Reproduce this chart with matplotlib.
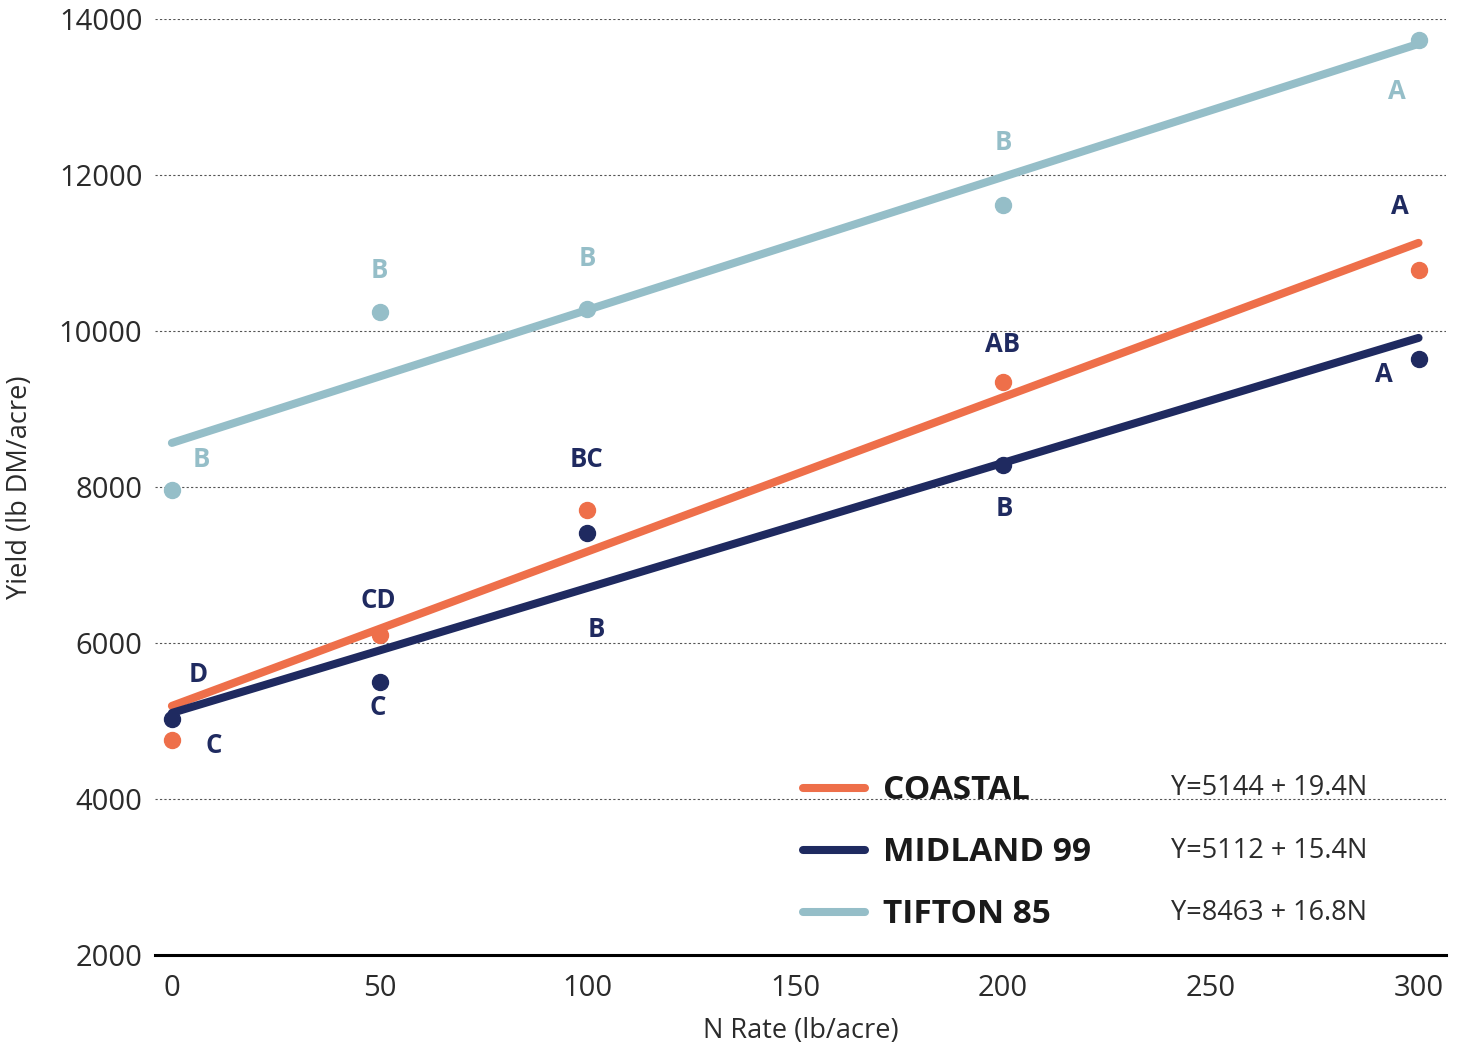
import matplotlib
matplotlib.use("Agg")
import matplotlib.pyplot as plt

FONT = "Open Sans"
COASTAL_COLOR = "#ee6f4a"
MIDLAND_COLOR = "#1f2a60"
TIFTON_COLOR = "#95bec8"
TEXT_COLOR = "#2b2b2b"

n_rates = [0, 50, 100, 200, 300]

coastal_yield = [4756, 6103, 7705, 9346, 10782]
midland_yield = [5026, 5500, 7410, 8282, 9641]
tifton_yield = [7962, 10244, 10282, 11615, 13731]

# fitted lines, read at N = 0 and N = 300
fit_x = [0, 300]
coastal_fit = [5193, 11128]
midland_fit = [5103, 9910]
tifton_fit = [8564, 13679]

series_names = ["COASTAL", "MIDLAND 99", "TIFTON 85"]
equations = ["Y=5144 + 19.4N", "Y=5112 + 15.4N", "Y=8463 + 16.8N"]

# mean separation letters: (N, yield, letter)
tifton_letters = [(7, 8346, "B"), (50, 10769, "B"), (100, 10923, "B"),
                  (200, 12410, "B"), (294.7, 13064, "A")]
coastal_letters = [(6.3, 5590, "D"), (49.6, 6539, "CD"), (99.8, 8346, "BC"),
                   (199.9, 9821, "AB"), (295.4, 11590, "A")]
midland_letters = [(10.1, 4680, "C"), (49.6, 5167, "C"), (102.2, 6167, "B"),
                   (200.4, 7718, "B"), (291.6, 9436, "A")]

y_ticks = [2000, 4000, 6000, 8000, 10000, 12000, 14000]
x_ticks = [0, 50, 100, 150, 200, 250, 300]

plt.rcParams["font.family"] = [FONT, "DejaVu Sans"]

fig = plt.figure(figsize=(14.61, 10.46), dpi=100)
ax = fig.add_axes([0.106, 0.087, 0.884, 0.895])

series = [
    (coastal_yield, coastal_fit, COASTAL_COLOR),
    (midland_yield, midland_fit, MIDLAND_COLOR),
    (tifton_yield, tifton_fit, TIFTON_COLOR),
]
handles = []
for (pts, fit, color), name in zip(series, series_names):
    line, = ax.plot(fit_x, fit, color=color, linewidth=5.8,
                    solid_capstyle="round", zorder=3, label=name)
    ax.plot(n_rates, pts, "o", color=color, markersize=11.5, zorder=4)
    handles.append(line)

for letters, color in [(tifton_letters, TIFTON_COLOR),
                       (coastal_letters, MIDLAND_COLOR),
                       (midland_letters, MIDLAND_COLOR)]:
    for x, y, txt in letters:
        ax.text(x, y, txt, color=color, fontsize=18.5, fontweight="bold",
                ha="center", va="center", zorder=5)

ax.set_xlim(-4.1, 306.7)
ax.set_ylim(2000, 14000)
ax.set_xticks(x_ticks)
ax.set_yticks(y_ticks)
ax.tick_params(length=0, labelsize=21, labelcolor=TEXT_COLOR)
ax.tick_params(axis="x", pad=14)
ax.tick_params(axis="y", pad=9)

for s in ["top", "right", "left"]:
    ax.spines[s].set_visible(False)
ax.spines["bottom"].set_linewidth(2.2)
ax.spines["bottom"].set_color("black")

ax.yaxis.grid(True, linestyle=(0, (2, 2)), linewidth=0.8, color="#555555")
ax.set_axisbelow(True)

ax.set_xlabel("N Rate (lb/acre)", fontsize=19.5, color=TEXT_COLOR, labelpad=10)
ax.set_ylabel("Yield (lb DM/acre)", fontsize=19.5, color=TEXT_COLOR, labelpad=18)

leg = ax.legend(handles=handles, loc="center left",
                bbox_to_anchor=(0.502, 0.109), frameon=False,
                prop={"family": FONT, "weight": "bold", "size": 24},
                handlelength=1.86, handletextpad=0.54, labelspacing=0.87,
                borderpad=0, borderaxespad=0)
for t in leg.get_texts():
    t.set_color("#1a1a1a")
for lh in leg.get_lines():
    lh.set_linewidth(5.8)

for i, eq in enumerate(equations):
    ax.text(0.787, 0.178 - i * 0.0665, eq, transform=ax.transAxes,
            fontsize=19.5, color=TEXT_COLOR, ha="left", va="center")

fig.savefig("out.png", dpi=100)
